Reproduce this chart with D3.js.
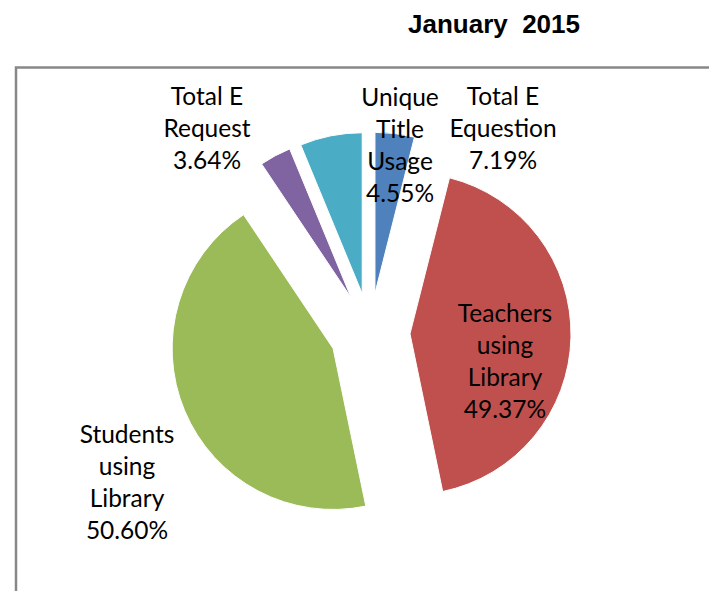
<!DOCTYPE html>
<html>
<head>
<meta charset="utf-8">
<script src="https://cdn.jsdelivr.net/npm/d3@7"></script>
<style>
  html, body { margin: 0; padding: 0; background: #fff; }
  svg { display: block; }
</style>
</head>
<body>
<svg id="chart" width="709" height="591"></svg>
<script>
// ---- data ----
const title = "January\u00a0\u00a02015";
const categories = ["Unique Title Usage", "Teachers using Library", "Students using Library", "Total E Request", "Total E Equestion"];
const labelLines = [["Unique", "Title", "Usage"], ["Teachers", "using", "Library"], ["Students", "using", "Library"], ["Total E", "Request"], ["Total E", "Equestion"]];
const values = [4.55, 49.37, 50.60, 3.64, 7.19];
const colors = ["#4F81BD", "#C0504D", "#9BBB59", "#8064A2", "#4BACC6"];

// ---- layout ----
const W = 709, H = 591;
const cx = 370, cy = 333, R = 161, explode = 40;
const labelFont = "Lato, 'Open Sans', sans-serif";
const labelSize = 24.5, lineH = 32;
// label block centres relative to the pie centre
const labelOffsets = [[30, -188], [135, 28], [-243, 149], [-163, -205], [133, -205]];

const svg = d3.select("#chart");

// frame
svg.append("path")
  .attr("d", `M16,${H + 5} L16,67.5 L${W + 5},67.5`)
  .attr("fill", "none")
  .attr("stroke", "#888888")
  .attr("stroke-width", 2.5);

// title
svg.append("text")
  .attr("x", 494).attr("y", 33)
  .attr("text-anchor", "middle")
  .attr("font-family", "'Liberation Sans', Arial, sans-serif")
  .attr("font-weight", "bold")
  .attr("font-size", 26)
  .attr("fill", "#000")
  .text(title);

const pie = d3.pie().sort(null).value(d => d);
const arcs = pie(values);
const arc = d3.arc().innerRadius(0).outerRadius(R);

const g = svg.append("g").attr("transform", `translate(${cx},${cy})`);

g.selectAll("path.slice")
  .data(arcs)
  .join("path")
  .attr("class", "slice")
  .attr("d", arc)
  .attr("fill", (d, i) => colors[i])
  .attr("stroke", "#fff")
  .attr("stroke-width", 1)
  .attr("transform", d => {
    const mid = (d.startAngle + d.endAngle) / 2;
    return `translate(${Math.sin(mid) * explode},${-Math.cos(mid) * explode})`;
  });

// labels
const lab = g.selectAll("text.label")
  .data(arcs)
  .join("text")
  .attr("class", "label")
  .attr("text-anchor", "middle")
  .attr("font-family", labelFont)
  .attr("font-size", labelSize)
  .attr("fill", "#000");

lab.each(function(d, i) {
  const lines = labelLines[i].concat([values[i].toFixed(2) + "%"]);
  const [ox, oy] = labelOffsets[i];
  const top = oy - (lines.length - 1) * lineH / 2;
  d3.select(this).selectAll("tspan")
    .data(lines)
    .join("tspan")
    .attr("x", ox)
    .attr("y", (t, k) => top + k * lineH + labelSize * 0.36)
    .text(t => t);
});
</script>
</body>
</html>
